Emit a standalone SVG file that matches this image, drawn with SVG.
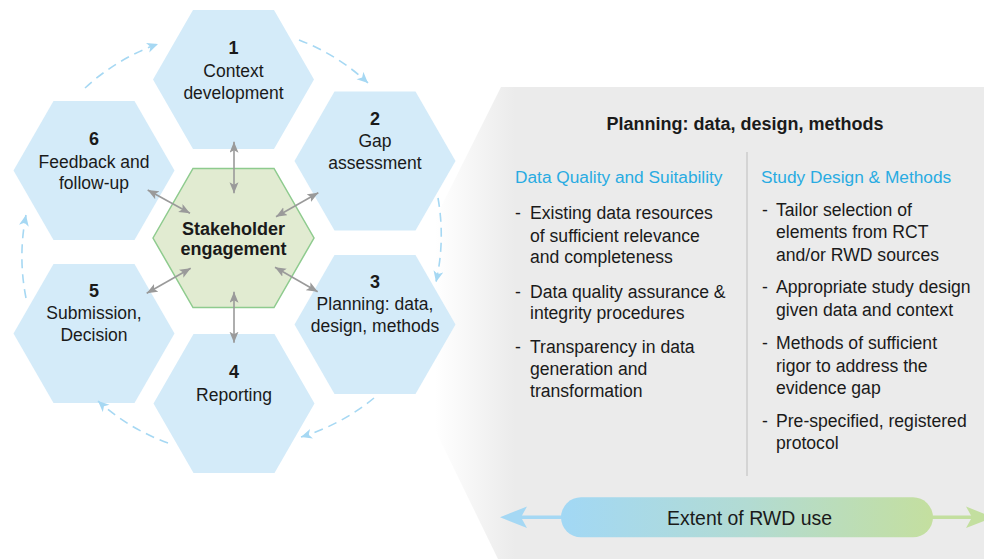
<svg xmlns="http://www.w3.org/2000/svg" width="984" height="559" viewBox="0 0 984 559">
  <style>
    text { font-family: "Liberation Sans", Arial, sans-serif; fill: #1a1a1a; }
    .hex { fill: #d4ebf9; }
    .core { fill: #e1ebd1; stroke: #8ecb8e; stroke-width: 1.5; }
    .num { font-size: 18px; font-weight: bold; text-anchor: middle; }
    .lbl { font-size: 17.5px; text-anchor: middle; }
    .core-lbl { font-size: 18px; font-weight: bold; text-anchor: middle; }
    .title { font-size: 18px; font-weight: bold; text-anchor: middle; }
    .head { font-size: 17.3px; fill: #29abe2; }
    .body { font-size: 17.6px; }
    .link { fill: none; stroke: #9a9a9a; stroke-width: 1.6; marker-start: url(#grayHead); marker-end: url(#grayHead); }
    .cycle { fill: none; stroke: #a6d8f3; stroke-width: 1.6; stroke-dasharray: 9 6; marker-end: url(#blueHead); }
  </style>
  <defs>
    <polygon id="hexShape" points="-80.5,0 -40.5,-69.5 40.5,-69.5 80.5,0 40.5,69.5 -40.5,69.5"/>
    <linearGradient id="panelFade" gradientUnits="userSpaceOnUse" x1="435" y1="0" x2="515" y2="0">
      <stop offset="0" stop-color="#ffffff"/>
      <stop offset="1" stop-color="#ebebeb"/>
    </linearGradient>
    <linearGradient id="pillFill" x1="0" y1="0" x2="1" y2="0">
      <stop offset="0" stop-color="#a2d8f5"/>
      <stop offset="0.5" stop-color="#b2dbd3"/>
      <stop offset="1" stop-color="#c4df9f"/>
    </linearGradient>
    <marker id="grayHead" markerUnits="userSpaceOnUse" markerWidth="12" markerHeight="10" refX="11" refY="4.5" orient="auto-start-reverse">
      <path d="M0,0 L11,4.5 L0,9 L2.5,4.5 Z" fill="#9a9a9a"/>
    </marker>
    <marker id="blueHead" markerUnits="userSpaceOnUse" markerWidth="12" markerHeight="11" refX="11" refY="5" orient="auto">
      <path d="M0,0 L11,5 L0,10 L3,5 Z" fill="#a6d8f3"/>
    </marker>
  </defs>

  <!-- detail panel behind the cycle -->
  <polygon id="panel" points="383,323 501,87 984,87 984,559 498,559" fill="url(#panelFade)"/>

  <!-- cycle of process steps -->
  <g id="step1"><use href="#hexShape" class="hex" x="233.5" y="79.5"/>
    <text class="num" x="233.5" y="54">1</text>
    <text class="lbl" x="233.5" y="77">Context</text>
    <text class="lbl" x="233.5" y="99">development</text>
  </g>
  <g id="step2"><use href="#hexShape" class="hex" x="375" y="161"/>
    <text class="num" x="375" y="125">2</text>
    <text class="lbl" x="375" y="147">Gap</text>
    <text class="lbl" x="375" y="169">assessment</text>
  </g>
  <g id="step3"><use href="#hexShape" class="hex" x="375" y="324.5"/>
    <text class="num" x="375" y="287.5">3</text>
    <text class="lbl" x="375" y="310">Planning: data,</text>
    <text class="lbl" x="375" y="332">design, methods</text>
  </g>
  <g id="step4"><use href="#hexShape" class="hex" x="234" y="403.5"/>
    <text class="num" x="234" y="378">4</text>
    <text class="lbl" x="234" y="400.5">Reporting</text>
  </g>
  <g id="step5"><use href="#hexShape" class="hex" x="94" y="333.5"/>
    <text class="num" x="94" y="296.5">5</text>
    <text class="lbl" x="94" y="319">Submission,</text>
    <text class="lbl" x="94" y="341">Decision</text>
  </g>
  <g id="step6"><use href="#hexShape" class="hex" x="94" y="170.5"/>
    <text class="num" x="94" y="145">6</text>
    <text class="lbl" x="94" y="167.5">Feedback and</text>
    <text class="lbl" x="94" y="189">follow-up</text>
  </g>
  <g id="stakeholders"><use href="#hexShape" class="core" x="233.5" y="238"/>
    <text class="core-lbl" x="233.5" y="235">Stakeholder</text>
    <text class="core-lbl" x="233.5" y="254.5">engagement</text>
  </g>

  <!-- connectors -->
  <g id="connectors">
    <path class="link" d="M234,141.7 L234,193.3"/>
    <path class="link" d="M234,291.7 L234,342.7"/>
    <path class="link" d="M147.7,190 L190,213.3"/>
    <path class="link" d="M318.3,192.7 L276,216.7"/>
    <path class="link" d="M146.7,293.3 L190.7,268.3"/>
    <path class="link" d="M317.7,291.7 L275,267.3"/>

    <path class="cycle" d="M85,88 A212,212 0 0 1 158,44"/>
    <path class="cycle" d="M299,40 A212,212 0 0 1 368,83"/>
    <path class="cycle" d="M438,198 A212,212 0 0 1 436,282"/>
    <path class="cycle" d="M374,398 A212,212 0 0 1 301,437"/>
    <path class="cycle" d="M168,443 A212,212 0 0 1 98,401"/>
    <path class="cycle" d="M26,298 A212,212 0 0 1 26,215"/>
  </g>

  <!-- planning detail -->
  <g id="planning-detail">
    <text class="title" x="745" y="130">Planning: data, design, methods</text>
    <line x1="747" y1="152" x2="747" y2="476" stroke="#cccccc" stroke-width="1.5"/>

    <text class="head" x="515" y="183.3">Data Quality and Suitability</text>
    <text class="body" x="515" y="219.3">-</text>
    <text class="body" x="530" y="219.3">Existing data resources</text>
    <text class="body" x="530" y="241.7">of sufficient relevance</text>
    <text class="body" x="530" y="263.3">and completeness</text>
    <text class="body" x="515" y="298.3">-</text>
    <text class="body" x="530" y="298.3">Data quality assurance &amp;</text>
    <text class="body" x="530" y="319.3">integrity procedures</text>
    <text class="body" x="515" y="353.3">-</text>
    <text class="body" x="530" y="353.3">Transparency in data</text>
    <text class="body" x="530" y="375">generation and</text>
    <text class="body" x="530" y="396.7">transformation</text>

    <text class="head" x="761" y="183.3">Study Design &amp; Methods</text>
    <text class="body" x="762" y="215.7">-</text>
    <text class="body" x="776" y="215.7">Tailor selection of</text>
    <text class="body" x="776" y="238.3">elements from RCT</text>
    <text class="body" x="776" y="261">and/or RWD sources</text>
    <text class="body" x="762" y="293.3">-</text>
    <text class="body" x="776" y="293.3">Appropriate study design</text>
    <text class="body" x="776" y="316">given data and context</text>
    <text class="body" x="762" y="349.3">-</text>
    <text class="body" x="776" y="349.3">Methods of sufficient</text>
    <text class="body" x="776" y="371.7">rigor to address the</text>
    <text class="body" x="776" y="394.3">evidence gap</text>
    <text class="body" x="762" y="426.7">-</text>
    <text class="body" x="776" y="426.7">Pre-specified, registered</text>
    <text class="body" x="776" y="449.3">protocol</text>
  </g>

  <!-- extent scale -->
  <g id="rwd-extent">
    <line x1="562" y1="517.3" x2="515" y2="517.3" stroke="#a5d8f4" stroke-width="3.5"/>
    <path d="M500,517.3 L527,506.5 L521,517.3 L527,528.1 Z" fill="#a5d8f4"/>
    <line x1="932" y1="517.3" x2="980" y2="517.3" stroke="#c3df9f" stroke-width="3.5"/>
    <path d="M993,517.3 L966,506.5 L972,517.3 L966,528.1 Z" fill="#c3df9f"/>
    <rect x="561" y="497.3" width="372" height="40" rx="20" fill="url(#pillFill)"/>
    <text x="749.5" y="524.5" font-size="21px" text-anchor="middle" textLength="165" lengthAdjust="spacingAndGlyphs">Extent of RWD use</text>
  </g>
</svg>
